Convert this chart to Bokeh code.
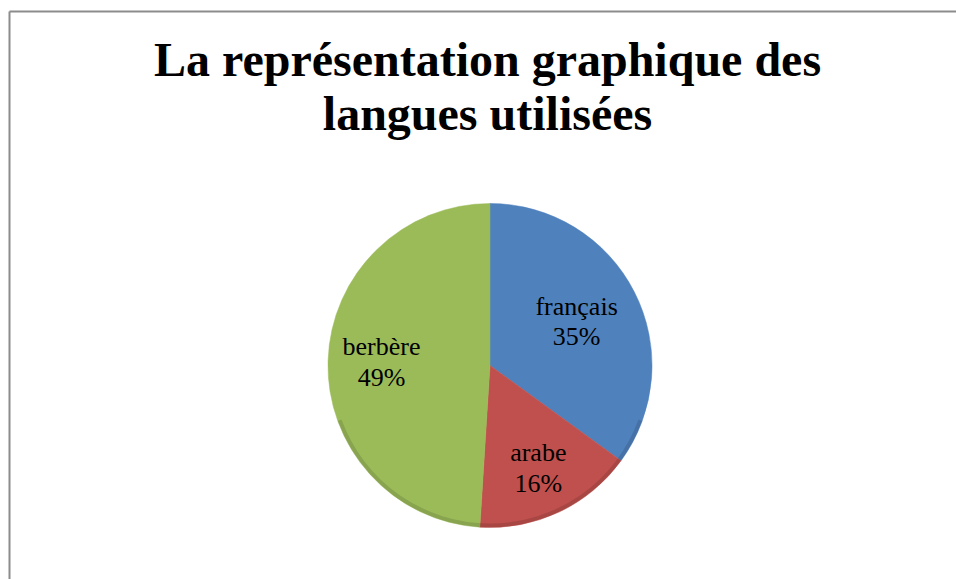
import math
from bokeh.plotting import figure
from bokeh.models import Range1d, ColumnDataSource
from bokeh.core.properties import value
from bokeh.embed import file_html
from bokeh.resources import INLINE

title_lines = ["La représentation graphique des", "langues utilisées"]
categories = ["français", "arabe", "berbère"]
percents = [35, 16, 49]
colors = ["#4F81BD", "#C0504D", "#9BBB59"]
label_r = [0.6, 0.7, 0.67]

W, H = 956, 579
p = figure(width=W, height=H, output_backend="svg", toolbar_location=None,
           x_range=Range1d(0, W), y_range=Range1d(0, H), min_border=0,
           outline_line_color=None, background_fill_color="white",
           border_fill_color="white")
p.xaxis.visible = False
p.yaxis.visible = False
p.xgrid.visible = False
p.ygrid.visible = False

# chart-area border (left and top edges visible)
bx, by = 9, H - 11
p.segment(x0=[bx, bx], y0=[by, by], x1=[W + 5, bx], y1=[by, -5],
          line_color="#8c8c8c", line_width=2)

cx, cy, R = 489.5, H - 365, 162

total = sum(percents)
starts, ends, lx, ly, texts = [], [], [], [], []
a = 90.0
for c, v, f in zip(categories, percents, label_r):
    sweep = 360.0 * v / total
    e = a - sweep
    starts.append(math.radians(e))
    ends.append(math.radians(a))
    mid = math.radians((a + e) / 2)
    lx.append(cx + f * R * math.cos(mid))
    ly.append(cy + f * R * math.sin(mid))
    texts.append(f"{c}\n{v}%")
    a = e

src = ColumnDataSource(dict(start=starts, end=ends, color=colors, lx=lx, ly=ly, t=texts))
p.wedge(x=cx, y=cy, radius=R, start_angle="start", end_angle="end",
        fill_color="color", line_color="color", line_width=0.5, source=src)
# subtle darker rim at the bottom (3D bevel look)
p.annular_wedge(x=cx, y=cy, inner_radius=R - 4, outer_radius=R,
                start_angle=math.radians(200), end_angle=math.radians(340),
                fill_color="black", fill_alpha=0.12, line_color=None)

p.text(x="lx", y="ly", text="t", source=src, text_font=value("Liberation Serif"),
       text_font_size="26px", text_align="center", text_baseline="middle",
       text_color="black", text_line_height=1.05)

p.text(x=[487, 487], y=[H - 59, H - 113], text=title_lines,
       text_font=value("Liberation Serif"), text_font_style="bold",
       text_font_size="48px", text_align="center", text_baseline="alphabetic",
       text_color="black")

open("out.html", "w").write(file_html(p, INLINE))
